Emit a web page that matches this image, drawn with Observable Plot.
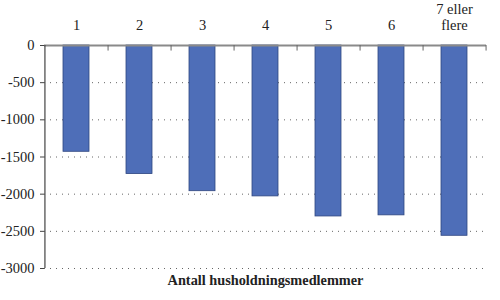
<!DOCTYPE html>
<html><head><meta charset="utf-8">
<script src="https://cdn.jsdelivr.net/npm/d3@7"></script>
<script src="https://cdn.jsdelivr.net/npm/@observablehq/plot@0.6"></script>
<style>body{margin:0;background:#fff;} svg{display:block;}</style>
</head><body><div id="chart"></div>
<script>
const categories = ["1","2","3","4","5","6","7 eller\nflere"];
const values = [-1430, -1730, -1960, -2030, -2300, -2285, -2560];
const yTicks = [0, -500, -1000, -1500, -2000, -2500, -3000];
const gridTicks = [-500, -1000, -1500, -2000, -2500, -3000];
const xLabel = "Antall husholdningsmedlemmer";

const data = categories.map((c, i) => ({cat: c, value: values[i]}));
const W = 500, mL = 44, mR = 14;
const step = (W - mL - mR) / categories.length;
const serif = "Liberation Serif, Times New Roman, serif";

const chart = Plot.plot({
  width: W, height: 300,
  marginLeft: mL, marginRight: mR, marginTop: 45, marginBottom: 32,
  style: {fontFamily: serif, fontSize: "14.5px", color: "#222", background: "#fff"},
  x: {domain: categories, paddingInner: 0.59, paddingOuter: 0.295, axis: null, label: null},
  y: {domain: [-3000, 0], axis: null, label: null},
  marks: [
    Plot.gridY(gridTicks, {stroke: "#666", strokeOpacity: 1, strokeWidth: 1, strokeDasharray: "1,5"}),
    Plot.barY(data, {x: "cat", y: "value", fill: "#4e6eb8", stroke: "#2f4680", strokeWidth: 0.8}),
    Plot.axisX({anchor: "top", label: null, tickSize: 0, tickPadding: 16, fontSize: 14.5, fontFamily: serif, fill: "#222", lineHeight: 1.1}),
    Plot.ruleY([0], {stroke: "#8a8a8a", strokeWidth: 2}),
    Plot.ruleX(categories, {x: d => d, dx: step / 2, y1: 0, y2: -75, stroke: "#666", strokeWidth: 1}),
    Plot.axisY(yTicks, {anchor: "left", label: null, tickSize: 4, tickPadding: 6, tickFormat: d => String(d), stroke: "#444", fontSize: 14.5, fontFamily: serif, fill: "#222"}),
    Plot.ruleX([categories[0]], {x: d => d, dx: -step / 2, y1: 0, y2: -3000, stroke: "#444", strokeWidth: 1.2}),
    Plot.text([xLabel], {frameAnchor: "bottom", dy: 16, text: d => d, fontWeight: "bold", fontSize: 14.3, fontFamily: serif, fill: "#222"})
  ]
});
document.getElementById("chart").appendChild(chart);
</script>
</body></html>
